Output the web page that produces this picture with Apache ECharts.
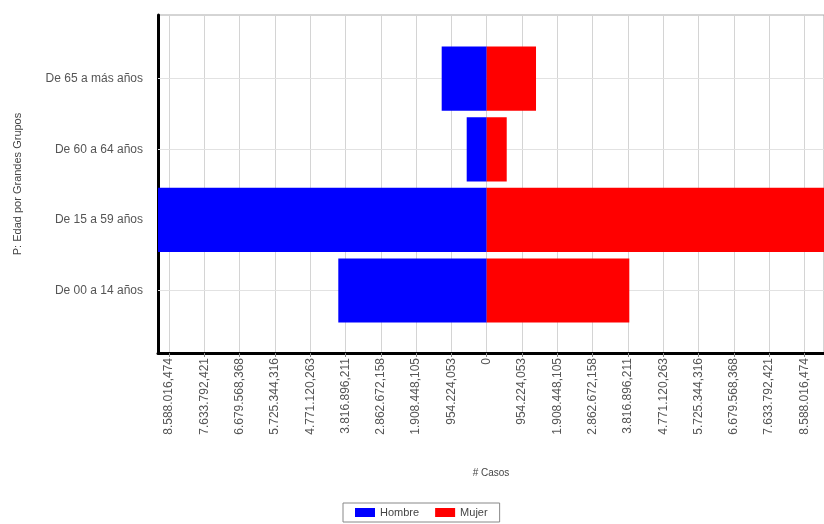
<!DOCTYPE html>
<html>
<head>
<meta charset="utf-8">
<script src="https://cdn.jsdelivr.net/npm/echarts@6/dist/echarts.min.js"></script>
<style>
html,body{margin:0;padding:0;background:#fff;}
#chart{width:824px;height:524px;}
</style>
</head>
<body>
<div id="chart"></div>
<script>
// ---- data ----
var categories = ["De 00 a 14 años", "De 15 a 59 años", "De 60 a 64 años", "De 65 a más años"];
var hombre = [-4012000, -9300000, -541000, -1217000];
var mujer = [3855000, 9400000, 541000, 1333000];
var tickValues = [-8588016.474, -7633792.421, -6679568.368, -5725344.316, -4771120.263, -3816896.211, -2862672.158, -1908448.105, -954224.053, 0,
                  954224.053, 1908448.105, 2862672.158, 3816896.211, 4771120.263, 5725344.316, 6679568.368, 7633792.421, 8588016.474];
var tickLabels = ["8.588.016,474", "7.633.792,421", "6.679.568,368", "5.725.344,316", "4.771.120,263", "3.816.896,211", "2.862.672,158", "1.908.448,105", "954.224,053", "0",
                  "954.224,053", "1.908.448,105", "2.862.672,158", "3.816.896,211", "4.771.120,263", "5.725.344,316", "6.679.568,368", "7.633.792,421", "8.588.016,474"];
var xMin = -8886000;
var xMax = 9118000;

var FONT = "'Liberation Sans', Arial, sans-serif";
function labelFor(v) {
  for (var i = 0; i < tickValues.length; i++) {
    if (Math.abs(tickValues[i] - v) < 1) return tickLabels[i];
  }
  return '';
}

var chart = echarts.init(document.getElementById('chart'), null, {renderer: 'canvas'});
chart.setOption({
  animation: false,
  backgroundColor: '#fff',
  textStyle: {fontFamily: FONT},
  grid: [
    {left: 158, right: -2, top: 15, height: 338, show: true, borderColor: '#aaa', borderWidth: 1, backgroundColor: 'transparent', containLabel: false},
    {left: 158, right: -2, top: 43.4, height: 282.4, containLabel: false}
  ],
  xAxis: [
    {
      type: 'value', gridIndex: 0, min: xMin, max: xMax,
      name: '# Casos', nameLocation: 'middle', nameGap: 115,
      nameTextStyle: {fontSize: 10, color: '#444', fontFamily: FONT},
      axisLine: {show: true, onZero: false, lineStyle: {color: '#000', width: 3}},
      axisTick: {show: true, length: 4, lineStyle: {color: '#888'}, customValues: tickValues},
      axisLabel: {show: true, rotate: 90, fontSize: 12, color: '#555', margin: 5, fontFamily: FONT,
                  customValues: tickValues, formatter: function (v) { return labelFor(v); }},
      splitLine: {show: true, lineStyle: {color: '#d4d4d4', width: 1}}
    },
    {
      type: 'value', gridIndex: 1, min: xMin, max: xMax, show: false,
      splitLine: {show: false}
    }
  ],
  yAxis: [
    {
      type: 'value', gridIndex: 0, min: 0, max: 1,
      name: 'P: Edad por Grandes Grupos', nameLocation: 'middle', nameGap: 135, nameRotate: 90,
      nameTextStyle: {fontSize: 11, color: '#444', fontFamily: FONT},
      axisLine: {show: true, onZero: false, lineStyle: {color: '#000', width: 3}},
      axisTick: {show: false}, axisLabel: {show: false}, splitLine: {show: false}
    },
    {
      type: 'category', gridIndex: 1, data: categories,
      axisLine: {show: false},
      axisTick: {show: true, alignWithLabel: true, length: 4, lineStyle: {color: '#888'}},
      axisLabel: {fontSize: 12, color: '#555', margin: 15, fontFamily: FONT},
      splitLine: {show: false}
    }
  ],
  legend: {
    data: ['Hombre', 'Mujer'],
    left: 343, bottom: 2,
    itemWidth: 20, itemHeight: 9, itemGap: 16,
    icon: 'rect',
    borderColor: '#888', borderWidth: 1, padding: [4, 12],
    textStyle: {fontSize: 11, color: '#444', fontFamily: FONT}
  },
  series: [
    {
      type: 'line', xAxisIndex: 1, yAxisIndex: 1, data: [], z: 1, silent: true,
      markLine: {
        z: 1, silent: true, symbol: ['none', 'none'], label: {show: false},
        lineStyle: {color: '#e2e2e2', width: 1, type: 'solid'},
        data: categories.map(function (c) { return {yAxis: c}; })
      }
    },
    {
      name: 'Hombre', type: 'bar', xAxisIndex: 1, yAxisIndex: 1, z: 3,
      data: hombre, barGap: '-100%', barCategoryGap: '9%',
      itemStyle: {color: '#0000ff'}
    },
    {
      name: 'Mujer', type: 'bar', xAxisIndex: 1, yAxisIndex: 1, z: 3,
      data: mujer, barGap: '-100%', barCategoryGap: '9%',
      itemStyle: {color: '#ff0000'}
    }
  ]
});
</script>
</body>
</html>
